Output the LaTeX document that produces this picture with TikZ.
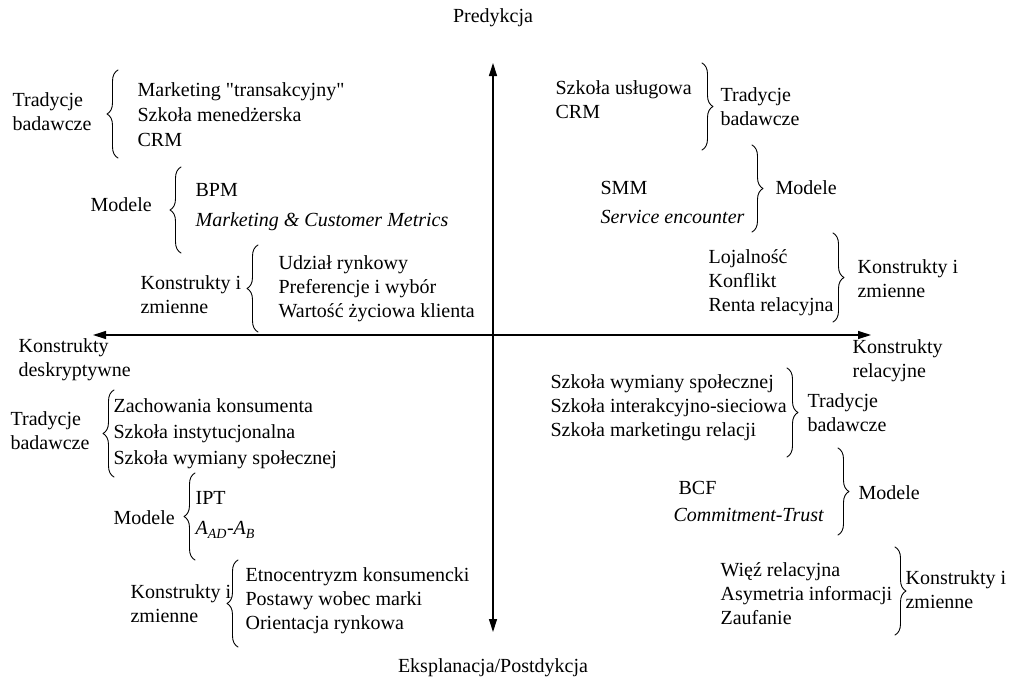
\documentclass[tikz,border=0pt]{standalone}
\usepackage{fontspec}
\setmainfont{Liberation Serif}
\usetikzlibrary{arrows.meta,decorations.pathreplacing}

\tikzset{
  txt/.style={font=\fontsize{20}{24}\selectfont, inner sep=0pt, align=left, anchor=west},
  brc/.style={decorate, decoration={brace, amplitude=11pt}, line width=0.9pt},
}

\begin{document}
\begin{tikzpicture}[line width=1.2pt, line cap=round, line join=round, >={Triangle[length=13pt,width=8pt]}, x=1pt, y=-1pt]
  \useasboundingbox (0,0) rectangle (1010,678);

  % axes
  \coordinate (ytop) at (493,63);
  \coordinate (ybot) at (493,632);
  \coordinate (xlft) at (93,335);
  \coordinate (xrgt) at (871,335);
  \draw[<->] (ybot) -- (ytop);
  \draw[<->] (xlft) -- (xrgt);

  \node[txt, anchor=center] (pred) at (493,18) {Predykcja};
  \node[txt, anchor=center] (ekspl) at (493,668) {Eksplanacja/Postdykcja};
  \node[txt] (kdesk) at (18,360) {Konstrukty\\deskryptywne};
  \node[txt] (krel) at (852,361) {Konstrukty\\relacyjne};

  % upper left: descriptive / prediction
  \node[txt] (tlTrad) at (12,112) {Tradycje\\badawcze};
  \node[txt] (tlTradIt) at (137,115) {Marketing \textquotedbl transakcyjny\textquotedbl\\[1pt]Szkoła menedżerska\\[1pt]CRM};
  \node[txt] (tlMod) at (90,205) {Modele};
  \node[txt] (tlModIt) at (195,207) {BPM\\[6pt]\textit{Marketing \& Customer Metrics}};
  \node[txt] (tlKon) at (140,295) {Konstrukty i\\zmienne};
  \node[txt] (tlKonIt) at (278,289) {Udział rynkowy\\Preferencje i wybór\\Wartość życiowa klienta};

  \coordinate (tlTradA) at (118,158); \coordinate (tlTradB) at (118,70);
  \coordinate (tlModA) at (181,253);  \coordinate (tlModB) at (181,167);
  \coordinate (tlKonA) at (258,332);  \coordinate (tlKonB) at (258,245);
  \draw[brc] (tlTradA) -- (tlTradB);
  \draw[brc] (tlModA) -- (tlModB);
  \draw[brc] (tlKonA) -- (tlKonB);

  % upper right: relational / prediction
  \node[txt] (trTradIt) at (555,100) {Szkoła usługowa\\CRM};
  \node[txt] (trTrad) at (720,107) {Tradycje\\badawcze};
  \node[txt] (trModIt) at (600,202) {SMM\\[5pt]\textit{Service encounter}};
  \node[txt] (trMod) at (775,188) {Modele};
  \node[txt] (trKonIt) at (708,283) {Lojalność\\Konflikt\\Renta relacyjna};
  \node[txt] (trKon) at (857,279) {Konstrukty i\\zmienne};

  \coordinate (trTradA) at (702,63);  \coordinate (trTradB) at (702,150);
  \coordinate (trModA) at (752,145);  \coordinate (trModB) at (752,232);
  \coordinate (trKonA) at (833,233);  \coordinate (trKonB) at (833,322);
  \draw[brc] (trTradA) -- (trTradB);
  \draw[brc] (trModA) -- (trModB);
  \draw[brc] (trKonA) -- (trKonB);

  % lower left: descriptive / explanation
  \node[txt] (blTrad) at (10,431) {Tradycje\\badawcze};
  \node[txt] (blTradIt) at (113,434) {Zachowania konsumenta\\[2pt]Szkoła instytucjonalna\\[2pt]Szkoła wymiany społecznej};
  \node[txt] (blMod) at (113,518) {Modele};
  \node[txt] (blModIt) at (195,515) {IPT\\[6pt]\textit{A}\textsubscript{\textit{AD}}-\textit{A}\textsubscript{\textit{B}}};
  \node[txt] (blKon) at (130,604) {Konstrukty i\\zmienne};
  \node[txt] (blKonIt) at (245,601) {Etnocentryzm konsumencki\\Postawy wobec marki\\Orientacja rynkowa};

  \coordinate (blTradA) at (114,477); \coordinate (blTradB) at (114,390);
  \coordinate (blModA) at (195,560);  \coordinate (blModB) at (195,473);
  \coordinate (blKonA) at (238,647);  \coordinate (blKonB) at (238,560);
  \draw[brc] (blTradA) -- (blTradB);
  \draw[brc] (blModA) -- (blModB);
  \draw[brc] (blKonA) -- (blKonB);

  % lower right: relational / explanation
  \node[txt] (brTradIt) at (550,408) {Szkoła wymiany społecznej\\Szkoła interakcyjno-sieciowa\\Szkoła marketingu relacji};
  \node[txt] (brTrad) at (807,413) {Tradycje\\badawcze};
  \node[txt] (brModIt) at (673,501) {\hspace*{5pt}BCF\\[3pt]\textit{Commitment-Trust}};
  \node[txt] (brMod) at (858,493) {Modele};
  \node[txt] (brKonIt) at (720,594) {Więź relacyjna\\Asymetria informacji\\Zaufanie};
  \node[txt] (brKon) at (905,590) {Konstrukty i\\zmienne};

  \coordinate (brTradA) at (787,368); \coordinate (brTradB) at (787,457);
  \coordinate (brModA) at (838,448);  \coordinate (brModB) at (838,535);
  \coordinate (brKonA) at (895,547);  \coordinate (brKonB) at (895,635);
  \draw[brc] (brTradA) -- (brTradB);
  \draw[brc] (brModA) -- (brModB);
  \draw[brc] (brKonA) -- (brKonB);
\end{tikzpicture}
\end{document}
